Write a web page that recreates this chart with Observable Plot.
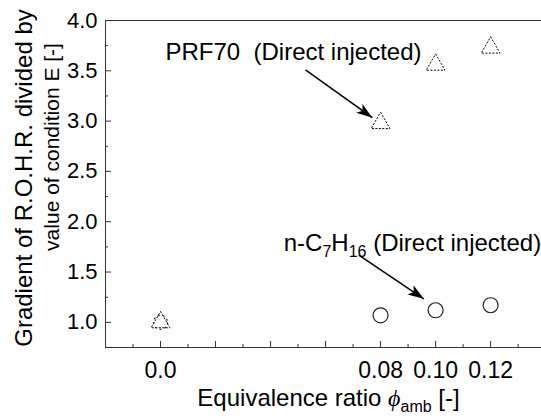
<!DOCTYPE html>
<html><head><meta charset="utf-8">
<script src="https://cdn.jsdelivr.net/npm/d3@7"></script>
<script src="https://cdn.jsdelivr.net/npm/@observablehq/plot@0.6"></script>
<style>body{margin:0;background:#fff} #chart svg{display:block}</style>
</head><body><div id="chart"></div>
<script>
// ---- data ----
const prfPhi = [0.0, 0.08, 0.10, 0.12];
const prfGrad = [1.0, 2.98, 3.56, 3.73];
const hepPhi = [0.0, 0.08, 0.10, 0.12];
const hepGrad = [1.0, 1.07, 1.12, 1.17];
const xDomain = [-0.02, 0.1385];
const yDomain = [0.75, 4.0];
const xMajorTicks = [0, 0.02, 0.04, 0.06, 0.08, 0.10, 0.12];
const xMinorTicks = [-0.01, 0.01, 0.03, 0.05, 0.07, 0.09, 0.11, 0.13];
const xLabelTicks = [0, 0.08, 0.10, 0.12];
const xTickLabels = ["0.0", "0.08", "0.10", "0.12"];
const yMajorTicks = [1.0, 1.5, 2.0, 2.5, 3.0, 3.5, 4.0];
const yMinorTicks = [1.25, 1.75, 2.25, 2.75, 3.25, 3.75];
const yTickLabels = ["1.0", "1.5", "2.0", "2.5", "3.0", "3.5", "4.0"];
const yTitleLines = ["Gradient of R.O.H.R. divided by", "value of condition E [-]"];
const xTitle = "Equivalence ratio ϕamb [-]";
const annotLabels = ["PRF70\u00a0\u00a0(Direct injected)", "n-C7H16 (Direct injected)"];
const annotX = [0.0018, 0.0448];
const annotY = [3.68, 1.785];
const arrowX1 = [0.0527, 0.0721];
const arrowY1 = [3.51, 1.667];
const arrowX2 = [0.0770, 0.0957];
const arrowY2 = [3.034, 1.234];

// ---- tables ----
const prf = prfPhi.map((x, i) => ({x, y: prfGrad[i]}));
const hep = hepPhi.map((x, i) => ({x, y: hepGrad[i], i}));
const annots = annotLabels.map((t, i) => ({t, x: annotX[i], y: annotY[i]}));
const arrows = arrowX1.map((x1, i) => ({x1, y1: arrowY1[i], x2: arrowX2[i], y2: arrowY2[i]}));

const FONT = "'Liberation Sans', Arial, Helvetica, sans-serif";
const axisColor = "#333";

const chart = Plot.plot({
  width: 541, height: 420,
  marginLeft: 105, marginRight: 0, marginTop: 20, marginBottom: 73,
  style: {fontFamily: FONT, fontSize: "22px", background: "white", color: "black"},
  x: {domain: xDomain, label: null},
  y: {domain: yDomain, label: null},
  marks: [
    Plot.ruleY(yDomain, {stroke: axisColor, strokeWidth: 1}),
    Plot.ruleX([xDomain[0]], {stroke: axisColor, strokeWidth: 1}),
    Plot.axisX(xMajorTicks, {tickSize: -6, tickFormat: () => "", stroke: axisColor, label: null}),
    Plot.axisX(xMinorTicks, {tickSize: -3, tickFormat: () => "", stroke: axisColor, label: null}),
    Plot.axisX(xLabelTicks, {tickSize: 0, tickPadding: 14, fontSize: 23, tickFormat: d => xTickLabels[xLabelTicks.indexOf(d)], fill: "black", label: null}),
    Plot.axisY(yMajorTicks, {tickSize: -6, tickFormat: () => "", stroke: axisColor, label: null}),
    Plot.axisY(yMinorTicks, {tickSize: -3, tickFormat: () => "", stroke: axisColor, label: null}),
    Plot.axisY(yMajorTicks, {tickSize: 0, tickPadding: 8, tickFormat: d => yTickLabels[yMajorTicks.indexOf(d)], fill: "black", label: null}),
    Plot.text([yTitleLines[0]], {text: d => d, frameAnchor: "left", textAnchor: "middle", rotate: -90, dx: -81, dy: -6, fontSize: 24, fill: "black"}),
    Plot.text([yTitleLines[1]], {text: d => d, frameAnchor: "left", textAnchor: "middle", rotate: -90, dx: -53, dy: -37, fontSize: 21, fill: "black"}),
    Plot.text([xTitle], {text: d => d, frameAnchor: "bottom", dy: 58, dx: 5, fontSize: 24, fill: "black"}),
    Plot.dot(prf, {x: "x", y: "y", symbol: "triangle", r: 7, stroke: "black", strokeWidth: 1, strokeDasharray: "2,1.5", fill: "none"}),
    Plot.dot(hep.filter(d => d.i > 0), {x: "x", y: "y", symbol: "circle", r: 7.5, stroke: "#222", strokeWidth: 1.2, fill: "none"}),
    Plot.dot(hep.filter(d => d.i === 0), {x: "x", y: "y", symbol: "circle", r: 7, stroke: "#222", strokeWidth: 1.2, strokeDasharray: "2,3", fill: "none"}),
    Plot.link(arrows, {x1: "x1", y1: "y1", x2: "x2", y2: "y2", stroke: "black", strokeWidth: 1.5, ariaDescription: "annot-arrow"}),
    Plot.text(annots, {x: "x", y: "y", text: "t", textAnchor: "start", fontSize: 24, fill: "black"})
  ]
});

// arrow heads (filled)
const ns = "http://www.w3.org/2000/svg";
const defs = document.createElementNS(ns, "defs");
const marker = document.createElementNS(ns, "marker");
marker.setAttribute("id", "filledHead");
marker.setAttribute("viewBox", "-17 -6 18 12");
marker.setAttribute("refX", "0");
marker.setAttribute("refY", "0");
marker.setAttribute("markerWidth", "18");
marker.setAttribute("markerHeight", "12");
marker.setAttribute("markerUnits", "userSpaceOnUse");
marker.setAttribute("orient", "auto");
const mp = document.createElementNS(ns, "path");
mp.setAttribute("d", "M0,0L-16,-5.5L-12,0L-16,5.5Z");
mp.setAttribute("fill", "black");
mp.setAttribute("stroke", "none");
marker.appendChild(mp);
defs.appendChild(marker);
chart.insertBefore(defs, chart.firstChild);
const linkGroups = new Set([
  ...chart.querySelectorAll('g[aria-description="annot-arrow"]'),
  ...chart.querySelectorAll('g[aria-label="link"]')
]);
linkGroups.forEach(g => g.querySelectorAll("path, line").forEach(p => p.setAttribute("marker-end", "url(#filledHead)")));

function rebuild(textEl, parts) {
  textEl.textContent = "";
  for (const p of parts) {
    const ts = document.createElementNS(ns, "tspan");
    ts.textContent = p.t;
    if (p.dy) ts.setAttribute("dy", p.dy);
    if (p.size) ts.setAttribute("font-size", p.size);
    if (p.italic) { ts.setAttribute("font-style", "italic"); ts.setAttribute("font-family", "'Liberation Serif', 'DejaVu Serif', serif"); }
    textEl.appendChild(ts);
  }
}
chart.querySelectorAll("text").forEach(t => {
  if (t.textContent === annotLabels[1]) {
    rebuild(t, [{t: "n-C"}, {t: "7", dy: 6, size: 16}, {t: "H", dy: -6}, {t: "16", dy: 6, size: 16}, {t: " (Direct injected)", dy: -6}]);
  } else if (t.textContent === xTitle) {
    rebuild(t, [{t: "Equivalence ratio "}, {t: "ϕ", italic: true}, {t: "amb", dy: 6, size: 16}, {t: " [-]", dy: -6}]);
  }
});
document.getElementById("chart").appendChild(chart);
</script>
</body></html>
